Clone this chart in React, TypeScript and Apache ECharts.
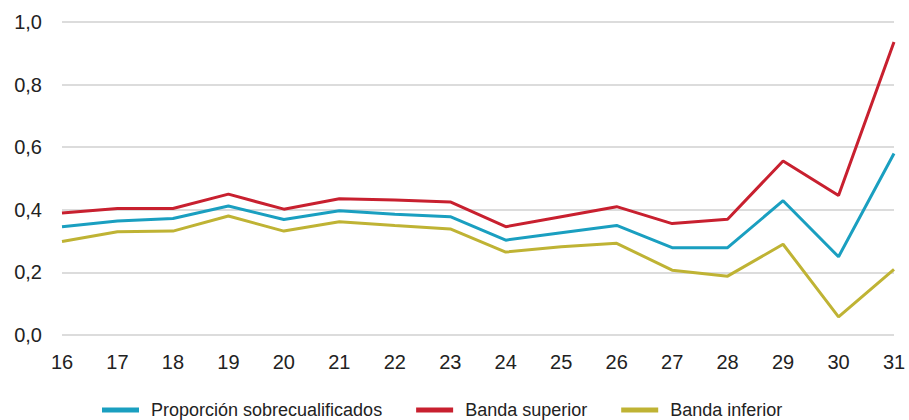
import React, { useEffect, useRef } from "react";
import * as echarts from "echarts";

const categories = ["16","17","18","19","20","21","22","23","24","25","26","27","28","29","30","31"];
const proporcion = [0.346,0.364,0.372,0.412,0.369,0.397,0.386,0.378,0.303,0.327,0.350,0.279,0.279,0.429,0.250,0.580];
const bandaSuperior = [0.390,0.404,0.404,0.450,0.402,0.435,0.431,0.425,0.346,0.378,0.410,0.356,0.370,0.556,0.446,0.936];
const bandaInferior = [0.299,0.330,0.332,0.380,0.332,0.362,0.350,0.339,0.265,0.282,0.293,0.207,0.188,0.290,0.058,0.210];

const FONT = "'Liberation Sans', Arial, sans-serif";

export default function App() {
  const ref = useRef<HTMLDivElement>(null);
  useEffect(() => {
    if (!ref.current) return;
    const chart = echarts.init(ref.current, undefined, { renderer: "svg" });
    const mk = (name: string, data: number[], color: string) => ({
      name,
      type: "line",
      data,
      symbol: "none",
      lineStyle: { color, width: 3 },
      itemStyle: { color },
    });
    chart.setOption({
      animation: false,
      backgroundColor: "#ffffff",
      grid: { left: 62, right: 15, top: 22, bottom: 85, containLabel: false },
      xAxis: {
        type: "category",
        data: categories,
        boundaryGap: false,
        axisLine: { show: false },
        axisTick: { show: false },
        axisLabel: { color: "#222", fontSize: 20, fontFamily: FONT, margin: 17 },
        splitLine: { show: false },
      },
      yAxis: {
        type: "value",
        min: 0,
        max: 1,
        interval: 0.2,
        axisLine: { show: false },
        axisTick: { show: false },
        axisLabel: {
          color: "#222",
          fontSize: 20,
          fontFamily: FONT,
          margin: 20,
          formatter: (v: number) => v.toFixed(1).replace(".", ","),
        },
        splitLine: { lineStyle: { color: "#d0d0d0", width: 1.5 } },
      },
      legend: {
        top: 401,
        left: 102,
        padding: 0,
        icon: "rect",
        itemWidth: 37,
        itemHeight: 5,
        itemGap: 34,
        textStyle: { color: "#222", fontSize: 18, fontFamily: FONT, padding: [0, 0, 0, 7] },
        data: ["Proporción sobrecualificados", "Banda superior", "Banda inferior"],
      },
      series: [
        mk("Proporción sobrecualificados", proporcion, "#1a9fc0"),
        mk("Banda superior", bandaSuperior, "#c8202f"),
        mk("Banda inferior", bandaInferior, "#bfb334"),
      ],
    });
    return () => chart.dispose();
  }, []);
  return <div ref={ref} style={{ width: 909, height: 420, position: "absolute", left: 0, top: 0 }} />;
}
